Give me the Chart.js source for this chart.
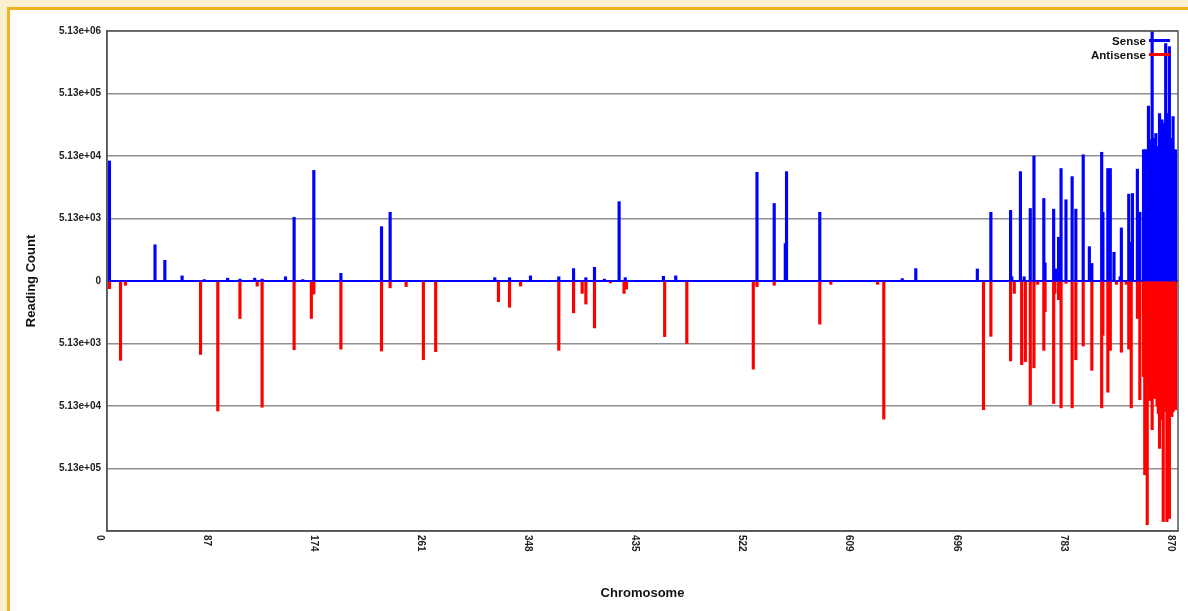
<!DOCTYPE html>
<html><head><meta charset="utf-8">
<script src="https://cdn.jsdelivr.net/npm/chart.js@4.4.1/dist/chart.umd.min.js"></script>
<style>
html,body{margin:0;padding:0;width:1188px;height:611px;overflow:hidden;background:#fcefd0;}
#frame{position:absolute;left:7px;top:7px;width:1200px;height:620px;background:#fff;border-left:3px solid #efb220;border-top:3px solid #efb220;}
#wrap{position:absolute;left:0;top:0;width:1188px;height:611px;}
</style></head><body>
<div id="frame"></div>
<div id="wrap"><canvas id="c" width="1188" height="611"></canvas></div>
<script>
// Chromosome positions and reading counts
const senseChrom = [2,39,47,61,79,98,108,120,126,145,152,159,168,190,223,230,315,327,344,367,379,389,396,404,416,421,452,462,528,542,551,552,579,646,657,707,718,734,735,742,745,750,753,761,762,769,771,773,775,779,784,787,793,798,800,808,809,813,815,818,823,824,830,831,833,837,839,
  842,843,844,845,846,847,848,849,850,851,852,853,854,855,856,857,858,859,860,861,862,863,864,865,866,867,868];
const senseCount = [42670,1950,1100,620,540,570,550,570,550,600,5370,540,30200,680,3800,6460,580,580,620,600,810,580,850,550,9550,580,610,620,28200,8920,2040,28850,6460,560,810,800,6460,6920,600,28850,600,7420,51300,10720,1000,7250,800,2570,32370,10240,23990,7250,53720,1820,980,58880,6460,32370,32370,1480,600,3630,12590,2140,12890,31630,6460,
  64580,64580,64580,8920,323690,93360,93360,5130000,97750,15490,117530,72470,37160,245530,81310,195030,169850,169850,3237000,195030,245530,2885000,81310,97750,218830,64580,64580];
const antiChrom = [2,11,15,76,90,108,122,126,152,166,168,190,223,230,243,257,267,318,327,336,367,379,386,389,396,409,420,422,453,471,525,528,542,579,588,626,631,712,718,734,737,743,746,750,753,756,761,762,769,770,773,775,779,784,787,793,800,808,809,813,815,820,824,828,830,832,837,839,
  842,843,844,845,846,847,848,849,850,851,852,853,854,855,856,857,858,859,860,861,862,863,864,865,866,867,868];
const antiCount = [680,9550,600,7680,61670,2040,620,53720,6460,2040,830,6310,6760,660,630,9340,6920,1100,1350,620,6610,1660,810,1200,2890,550,810,690,3980,5130,13190,630,600,2510,580,580,83200,58880,3940,9770,810,11220,10000,48990,12590,580,6610,1590,46790,810,1020,54980,560,54980,9340,5620,13810,54980,3800,30910,6610,580,7080,580,6310,54980,2040,40750,
  17380,645840,645840,4075000,19500,41700,41700,123060,36320,38920,12890,51300,67630,245530,85140,85140,3632000,32370,63100,3632000,457220,3237000,63100,75870,63100,58880,58880];
const xTickLabels = ['0','87','174','261','348','435','522','609','696','783','870'];
const yTickLabels = ['', '5.13e+05', '5.13e+04', '5.13e+03', '0', '5.13e+03', '5.13e+04', '5.13e+05', '5.13e+06'];
const seriesNames = ['Sense', 'Antisense'];
const seriesColors = ['#0000ff', '#ff0000'];
const BASE = 513;

function level(c){ return Math.max(0, Math.log10(c / BASE)); }
const senseData = senseChrom.map((x, i) => ({x: x, y: level(senseCount[i])}));
const antiData = antiChrom.map((x, i) => ({x: x, y: -level(antiCount[i])}));

const FONT = 'Liberation Sans';

const decor = {
  id: 'decor',
  afterDraw(chart) {
    const ctx = chart.ctx, a = chart.chartArea, xs = chart.scales.x;
    ctx.save();
    // plot frame
    ctx.strokeStyle = '#555';
    ctx.lineWidth = 1.5;
    ctx.strokeRect(a.left, a.top, a.right - a.left, a.bottom - a.top);
    // x tick labels, rotated clockwise
    ctx.fillStyle = '#222';
    ctx.font = 'bold 10px "' + FONT + '"';
    xs.ticks.forEach((t, i) => {
      const px = xs.getPixelForValue(t.value);
      ctx.save();
      ctx.translate(px - 7.5, a.bottom + 4);
      ctx.rotate(Math.PI / 2);
      ctx.textAlign = 'left';
      ctx.textBaseline = 'middle';
      ctx.fillText(xTickLabels[i] !== undefined ? xTickLabels[i] : String(t.value), 0, 0);
      ctx.restore();
    });
    // legend
    ctx.font = 'bold 11.5px "' + FONT + '"';
    ctx.textAlign = 'right';
    ctx.textBaseline = 'middle';
    chart.data.datasets.forEach((ds, i) => {
      const y = a.top + 11 + i * 14;
      ctx.fillStyle = '#111';
      ctx.fillText(ds.label, a.right - 32, y);
      ctx.strokeStyle = ds.backgroundColor;
      ctx.lineWidth = 3;
      ctx.beginPath();
      ctx.moveTo(a.right - 29, y - 1.5);
      ctx.lineTo(a.right - 8, y - 1.5);
      ctx.stroke();
    });
    ctx.restore();
  }
};

new Chart(document.getElementById('c').getContext('2d'), {
  type: 'bar',
  data: {
    datasets: [
      {label: seriesNames[0], data: senseData, backgroundColor: seriesColors[0], borderWidth: 0, barThickness: 2.5, grouped: false},
      {label: seriesNames[1], data: antiData, backgroundColor: seriesColors[1], borderWidth: 0, barThickness: 2.5, grouped: false}
    ]
  },
  options: {
    responsive: false,
    animation: false,
    devicePixelRatio: 1,
    layout: {padding: {top: 31, right: 10, left: 0, bottom: 0}},
    plugins: {legend: {display: false}, tooltip: {enabled: false}},
    scales: {
      x: {
        type: 'linear', min: 0, max: 870, offset: false,
        ticks: {display: false, stepSize: 87},
        grid: {display: false},
        border: {display: true, color: '#555', width: 1.5},
        title: {display: true, text: 'Chromosome', color: '#111', font: {family: FONT, size: 13, weight: 'bold'}, padding: {top: 0, bottom: 10}},
        afterFit(s) { s.height = 80; }
      },
      y: {
        type: 'linear', min: -4, max: 4,
        ticks: {stepSize: 1, padding: 6, color: '#222', font: {family: FONT, size: 10, weight: 'bold'},
                callback: (v) => yTickLabels[Math.round(v) + 4]},
        grid: {drawTicks: false,
               color: (c) => (c.tick && c.tick.value === 0) ? '#0000ff' : '#8f8f8f',
               lineWidth: (c) => (c.tick && c.tick.value === 0) ? 2 : 1.5},
        border: {color: '#555', width: 1.5},
        title: {display: true, text: 'Reading Count', color: '#111', font: {family: FONT, size: 13, weight: 'bold'}, padding: {top: 24, bottom: 0}},
        afterFit(s) { s.width = 107; }
      }
    }
  },
  plugins: [decor]
});
</script>
</body></html>
